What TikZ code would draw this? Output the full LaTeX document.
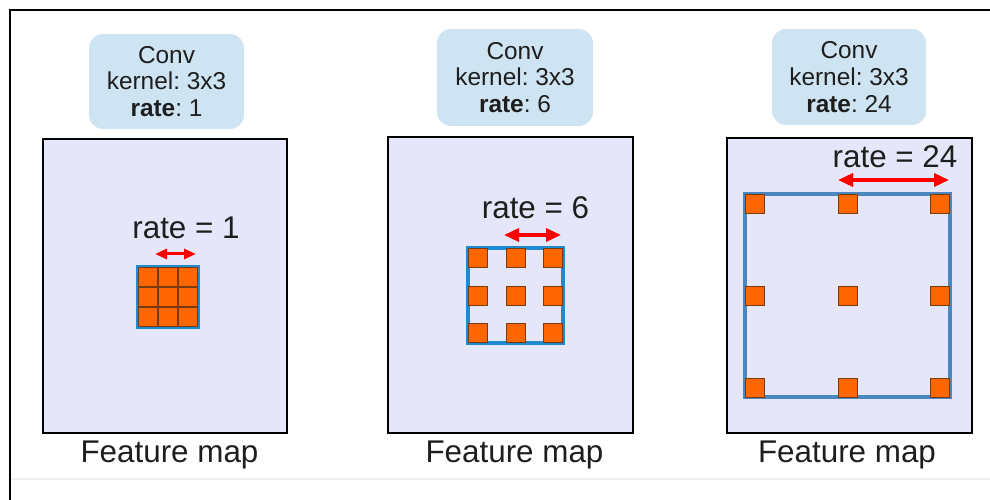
\documentclass[tikz,border=0pt]{standalone}
\usepackage{fontspec}
\setmainfont{Liberation Sans}
\frenchspacing
\usetikzlibrary{arrows.meta}
\definecolor{convblue}{HTML}{CFE4F2}
\definecolor{lav}{HTML}{E6E6FA}
\definecolor{korange}{HTML}{FF6600}
\definecolor{kbrown}{HTML}{7A3A10}
\definecolor{gridblueA}{HTML}{1E8AD2}
\definecolor{gridblueB}{HTML}{4A86C0}
\definecolor{txt}{HTML}{1E1E1E}
\tikzset{
  convbox/.style={fill=convblue, rounded corners=14bp, align=center, text=txt,
    font=\fontsize{24.5}{27}\selectfont, inner sep=0pt},
  fmap/.style={draw=black, line width=2bp, fill=lav, inner sep=0pt},
  cell/.style={fill=korange, draw=kbrown, line width=0.8bp, minimum size=19bp, inner sep=0pt},
  bigtxt/.style={font=\fontsize{31.5}{36}\selectfont, text=txt, inner sep=0pt},
  redarrow/.style={draw=red, line width=3.5bp, {Triangle[width=13bp,length=15bp]}-{Triangle[width=13bp,length=15bp]}},
  redarrowsmall/.style={draw=red, line width=3bp, {Triangle[width=10bp,length=12bp]}-{Triangle[width=10bp,length=12bp]}}
}
\begin{document}
\begin{tikzpicture}[x=1bp,y=-1bp]
\useasboundingbox (0,0) rectangle (990,500);
% outer frame
\draw[line width=1.5bp, black] (10,500) -- (10,10) -- (990,10);
\draw[line width=2bp, black!6] (11,479) -- (990,479);

% conv boxes
\node[convbox, minimum width=155bp, minimum height=95bp] (c1) at (166.5,81.5) {Conv\\kernel: 3x3\\\textbf{rate}: 1};
\node[convbox, minimum width=156bp, minimum height=97bp] (c2) at (515,77.5) {Conv\\kernel: 3x3\\\textbf{rate}: 6};
\node[convbox, minimum width=154bp, minimum height=96bp] (c3) at (849,77) {Conv\\kernel: 3x3\\\textbf{rate}: 24};

% feature maps
\node[fmap, minimum width=244bp, minimum height=294bp] (f1) at (165,286) {};
\node[fmap, minimum width=245bp, minimum height=296bp] (f2) at (510.5,285) {};
\node[fmap, minimum width=245bp, minimum height=295bp] (f3) at (849.5,285.5) {};

\node[bigtxt, anchor=base] (l1) at (169.5,462) {Feature map};
\node[bigtxt, anchor=base] (l2) at (514.5,462) {Feature map};
\node[bigtxt, anchor=base] (l3) at (847,462) {Feature map};

% grid 1
\foreach \i in {0,1,2}{\foreach \j in {0,1,2}{
  \node[cell, minimum size=20bp, line width=1.2bp] (g1-\i-\j) at (148+20*\i,277+20*\j) {};
}}
\draw[gridblueA, line width=2bp] (137,266) rectangle (199,328);
\draw[kbrown, line width=1bp] (138.5,267.5) rectangle (197.5,326.5);
\node[bigtxt, anchor=base] (r1) at (186,239) {rate = 1};
\coordinate (a1l) at (155,254);
\coordinate (a1r) at (196,254);
\draw[redarrowsmall] (a1l) -- (a1r);

% grid 2
\draw[gridblueA, line width=3.5bp] (468,248) rectangle (563,343);
\foreach \x [count=\i] in {478,515.5,553}{\foreach \y [count=\j] in {258,295.5,333}{
  \node[cell] (g2-\i-\j) at (\x,\y) {};
}}
\node[bigtxt, anchor=base] (r2) at (535.5,219) {rate = 6};
\coordinate (a2l) at (504,235);
\coordinate (a2r) at (561,235);
\draw[redarrow] (a2l) -- (a2r);

% grid 3
\draw[gridblueB, line width=3.5bp] (745,194) rectangle (950,397);
\foreach \x [count=\i] in {755,848,940}{\foreach \y [count=\j] in {204,296,388}{
  \node[cell] (g3-\i-\j) at (\x,\y) {};
}}
\node[bigtxt, anchor=base] (r3) at (895,168) {rate = 24};
\coordinate (a3l) at (838,180);
\coordinate (a3r) at (949,180);
\draw[redarrow] (a3l) -- (a3r);
\end{tikzpicture}
\end{document}
